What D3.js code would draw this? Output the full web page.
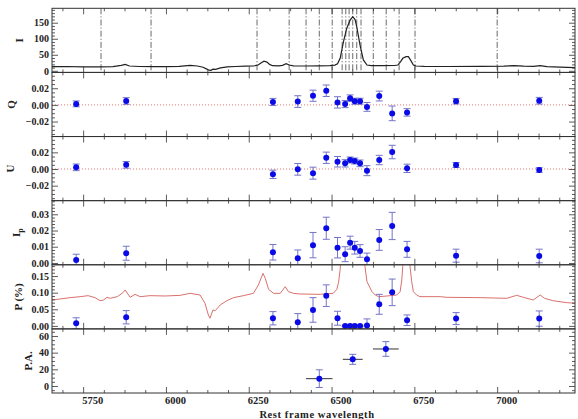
<!DOCTYPE html>
<html>
<head>
<meta charset="utf-8">
<script src="https://cdn.jsdelivr.net/npm/d3@7"></script>
<style>
  body { margin: 0; background: #fff; }
  text { font-family: "Liberation Serif", "DejaVu Serif", serif; font-weight: bold; fill: #222; }
</style>
</head>
<body>
<svg id="chart" width="578" height="419"></svg>
<script>
// ---- Total flux spectrum I(lambda): [wavelength, flux]
const fluxSpectrum = [
  [5656,13],[5700,13.5],[5750,12.5],[5800,12],[5840,13],[5865,17],[5877,20],[5890,15],
  [5920,13.5],[5960,13],[6000,13],[6040,14],[6073,17],[6095,15],[6112,11],[6122,6],
  [6130,2],[6136,1.5],[6142,5],[6150,4.5],[6165,9],[6185,12],[6210,13.5],[6240,14.5],
  [6265,15],[6278,18],[6288,25],[6296,30],[6305,27],[6313,20],[6322,16],[6340,15.5],
  [6352,17],[6363,22],[6372,18],[6385,15.5],[6420,15],[6460,15.5],[6495,16],[6510,18],
  [6518,22],[6526,39],[6536,91],[6546,133],[6556,158],[6564,169],[6571,160],[6576,138],
  [6586,80],[6596,34],[6607,18],[6620,16],[6650,16],[6690,16.5],[6700,18],[6708,28],
  [6715,39],[6725,44],[6732,44],[6740,31],[6747,18],[6755,15],[6780,14],[6850,13.5],
  [6950,14],[7020,14.5],[7050,16],[7080,14.5],[7110,14],[7130,16],[7150,13],[7190,11.5],[7235,10]
];

// ---- Binning boundaries used for the polarimetry
const binEdges = [5804, 5955, 6275, 6372, 6423, 6463, 6502, 6532, 6543, 6553, 6564,
                  6576, 6589, 6626, 6665, 6704, 6752, 7000];

// ---- Binned Stokes parameters
const binWave = [5729, 5880, 6323, 6398, 6444, 6484, 6518, 6541, 6556, 6570, 6586,
                 6607, 6644, 6683, 6728, 6876, 7127];
const qVal = [0.0012, 0.0047, 0.0035, 0.004, 0.011, 0.017, 0.003, 0.001, 0.008, 0.0044,
              0.0044, -0.0024, 0.0106, -0.0102, -0.009, 0.0044, 0.005];
const qErr = [0.0035, 0.004, 0.0043, 0.007, 0.0067, 0.0069, 0.0068, 0.0043, 0.004, 0.0036,
              0.0036, 0.0053, 0.0059, 0.0088, 0.0045, 0.0033, 0.004];
const uVal = [0.002, 0.005, -0.0064, -0.0004, -0.005, 0.0135, 0.0087, 0.0068, 0.0108, 0.0096,
              0.0068, -0.002, 0.0108, 0.0204, 0.0008, 0.0048, -0.0012];
const uErr = [0.004, 0.004, 0.005, 0.007, 0.0072, 0.0068, 0.0063, 0.0044, 0.0036, 0.0036,
              0.004, 0.006, 0.0056, 0.0081, 0.005, 0.003, 0.0028];
const ipVal = [0.0018, 0.006, 0.0066, 0.0029, 0.011, 0.0214, 0.0094, 0.0054, 0.0125, 0.0094,
               0.0074, 0.0023, 0.0142, 0.0228, 0.0084, 0.0045, 0.0043];
const ipErr = [0.0036, 0.0043, 0.0048, 0.0051, 0.0078, 0.0068, 0.0063, 0.0046, 0.004, 0.0039,
               0.0039, 0.0038, 0.0064, 0.0084, 0.0049, 0.004, 0.0042];
const pVal = [0.008, 0.026, 0.023, 0.011, 0.048, 0.091, 0.023, 0, 0, 0, 0,
              0.001, 0.065, 0.101, 0.017, 0.022, 0.022];
const pErr = [0.0165, 0.02, 0.02, 0.026, 0.037, 0.0325, 0.021, 0.002, 0.002, 0.002, 0.002,
              0.02, 0.03, 0.04, 0.016, 0.018, 0.023];

// ---- Continuum polarization spectrum P(lambda): [wavelength, P]
const polSpectrum = [
  [5656,0.078],[5681,0.081],[5711,0.085],[5741,0.088],[5765,0.091],[5786,0.085],[5801,0.076],
  [5812,0.078],[5822,0.086],[5832,0.083],[5853,0.088],[5870,0.100],[5877,0.108],[5892,0.086],
  [5907,0.095],[5922,0.088],[5952,0.091],[5998,0.090],[6043,0.092],[6073,0.098],[6103,0.093],
  [6118,0.068],[6128,0.033],[6133,0.023],[6142,0.048],[6149,0.046],[6164,0.063],[6184,0.076],
  [6204,0.085],[6234,0.091],[6264,0.098],[6279,0.123],[6293,0.158],[6300,0.143],[6310,0.110],
  [6325,0.098],[6345,0.098],[6360,0.118],[6370,0.103],[6385,0.098],[6405,0.096],[6466,0.095],
  [6505,0.098],[6516,0.110],[6521,0.130],[6526,0.170],[6532,0.25],[6545,0.45],[6564,0.6],
  [6585,0.45],[6597,0.25],[6601,0.178],[6607,0.133],[6622,0.103],[6632,0.093],[6642,0.088],
  [6667,0.090],[6697,0.093],[6707,0.103],[6712,0.138],[6715,0.178],[6720,0.3],[6732,0.3],
  [6737,0.178],[6742,0.133],[6747,0.103],[6757,0.093],[6767,0.088],[6828,0.088],[6848,0.086],
  [6949,0.085],[7029,0.083],[7059,0.092],[7079,0.086],[7109,0.078],[7130,0.093],[7143,0.083],
  [7168,0.076],[7209,0.070],[7239,0.068]
];

// ---- Position angle over three wide bins
const paWave = [6463, 6564, 6664];
const paHalfWidth = [40, 30, 39];
const paVal = [8.8, 32, 44.4];
const paErr = [10.6, 6, 8.8];

// ---- Axis ticks
const xMajorTicks = [5750, 6000, 6250, 6500, 6750, 7000];

// ---------------------------------------------------------------
const plotLeft = 52, plotRight = 575, plotTop = 8.3, plotBottom = 393;
const nPanels = 6, ph = (plotBottom - plotTop) / nPanels;
const svg = d3.select("#chart");
const axisColor = "#333";
const pointColor = "#0a0ae6";
const errColor = "#7474c8";
const redColor = "#d9706c";

const x = d3.scaleLinear().domain([5656, 7235]).range([plotLeft, plotRight]);
const xMinor = d3.range(5687.5, 7235, 62.5).filter(v => !xMajorTicks.includes(v));

const panels = [
  { title: "I",   domain: [-5, 195],          ticks: [0, 50, 100, 150],        minor: 10,    fmt: d3.format("d"),   tx: 23 },
  { title: "Q",   domain: [-0.038, 0.039],    ticks: [-0.02, 0, 0.02],         minor: 0.005, fmt: d3.format(".2f"), tx: 15 },
  { title: "U",   domain: [-0.038, 0.039],    ticks: [-0.02, 0, 0.02],         minor: 0.005, fmt: d3.format(".2f"), tx: 14 },
  { title: "Ip",  domain: [-0.0011, 0.0384],  ticks: [0, 0.01, 0.02, 0.03],    minor: 0.002, fmt: d3.format(".2f"), tx: 20 },
  { title: "P (%)", domain: [-0.009, 0.184],  ticks: [0, 0.05, 0.10, 0.15],    minor: 0.01,  fmt: d3.format(".2f"), tx: 22 },
  { title: "P.A.", domain: [-8.4, 68.5],      ticks: [0, 20, 40, 60],          minor: 5,     fmt: d3.format("d"),   tx: 32 }
];

panels.forEach((p, i) => {
  p.y0 = plotTop + i * ph;
  p.y1 = plotTop + (i + 1) * ph;
  p.y = d3.scaleLinear().domain(p.domain).range([p.y1, p.y0]);
  const lo = Math.ceil(p.domain[0] / p.minor), hi = Math.floor(p.domain[1] / p.minor);
  p.minorTicks = d3.range(lo, hi + 1).map(k => +(k * p.minor).toFixed(6))
    .filter(v => !p.ticks.some(t => Math.abs(t - v) < 1e-9));
  svg.append("clipPath").attr("id", "clip" + i)
    .append("rect").attr("x", plotLeft).attr("y", p.y0).attr("width", plotRight - plotLeft).attr("height", ph);
});

// ---- Panel 0: flux spectrum with bin boundaries
{
  const p = panels[0];
  const g = svg.append("g").attr("clip-path", "url(#clip0)");
  g.selectAll("line.edge").data(binEdges).join("line")
    .attr("x1", d => x(d)).attr("x2", d => x(d))
    .attr("y1", p.y0).attr("y2", p.y1)
    .attr("stroke", "#444").attr("stroke-width", 0.8)
    .attr("stroke-dasharray", "6,2,1.2,2");
  g.append("path").datum(fluxSpectrum)
    .attr("fill", "none").attr("stroke", "#222").attr("stroke-width", 1.2)
    .attr("d", d3.line().x(d => x(d[0])).y(d => p.y(d[1])));
}

// ---- Zero reference lines for Q and U
[1, 2].forEach(i => {
  const p = panels[i];
  svg.append("line")
    .attr("x1", plotLeft).attr("x2", plotRight)
    .attr("y1", p.y(0)).attr("y2", p.y(0))
    .attr("stroke", "#e05050").attr("stroke-width", 0.8)
    .attr("stroke-dasharray", "1,2");
});

// ---- Polarization spectrum in panel 4
{
  const p = panels[4];
  svg.append("g").attr("clip-path", "url(#clip4)")
    .append("path").datum(polSpectrum)
    .attr("fill", "none").attr("stroke", redColor).attr("stroke-width", 1)
    .attr("d", d3.line().x(d => x(d[0])).y(d => p.y(d[1])));
}

// ---- Error-bar points
function drawPoints(i, xs, vals, errs) {
  const p = panels[i];
  const g = svg.append("g").attr("clip-path", `url(#clip${i})`);
  const data = xs.map((w, k) => ({ w, v: vals[k], e: errs[k] }));
  const cap = 3.5;
  g.selectAll("line.bar").data(data).join("line")
    .attr("x1", d => x(d.w)).attr("x2", d => x(d.w))
    .attr("y1", d => p.y(d.v - d.e)).attr("y2", d => p.y(d.v + d.e))
    .attr("stroke", errColor).attr("stroke-width", 1);
  g.selectAll("line.capLo").data(data).join("line")
    .attr("x1", d => x(d.w) - cap).attr("x2", d => x(d.w) + cap)
    .attr("y1", d => p.y(d.v - d.e)).attr("y2", d => p.y(d.v - d.e))
    .attr("stroke", errColor).attr("stroke-width", 1);
  g.selectAll("line.capHi").data(data).join("line")
    .attr("x1", d => x(d.w) - cap).attr("x2", d => x(d.w) + cap)
    .attr("y1", d => p.y(d.v + d.e)).attr("y2", d => p.y(d.v + d.e))
    .attr("stroke", errColor).attr("stroke-width", 1);
  return { g, data };
}

[[1, qVal, qErr], [2, uVal, uErr], [3, ipVal, ipErr], [4, pVal, pErr]].forEach(([i, v, e]) => {
  const { g, data } = drawPoints(i, binWave, v, e);
  g.selectAll("circle").data(data).join("circle")
    .attr("cx", d => x(d.w)).attr("cy", d => panels[i].y(d.v))
    .attr("r", 3).attr("fill", pointColor);
});

// ---- Position angle with wavelength extent
{
  const p = panels[5];
  const { g, data } = drawPoints(5, paWave, paVal, paErr);
  g.selectAll("line.xbar").data(data).join("line")
    .attr("x1", (d, k) => x(d.w - paHalfWidth[k])).attr("x2", (d, k) => x(d.w + paHalfWidth[k]))
    .attr("y1", d => p.y(d.v)).attr("y2", d => p.y(d.v))
    .attr("stroke", "#333").attr("stroke-width", 1);
  g.selectAll("circle").data(data).join("circle")
    .attr("cx", d => x(d.w)).attr("cy", d => p.y(d.v))
    .attr("r", 3).attr("fill", pointColor);
}

// ---- Axes and frames
function styleAxis(sel) {
  sel.select(".domain").remove();
  sel.selectAll(".tick line").attr("stroke", axisColor).attr("stroke-width", 0.8);
  sel.selectAll("text").attr("font-size", 10).attr("fill", "#222")
    .attr("font-family", '"Liberation Serif", serif').attr("font-weight", "bold");
}

panels.forEach((p, i) => {
  const last = i === nPanels - 1;
  svg.append("g").attr("transform", `translate(${plotLeft},0)`)
    .call(d3.axisLeft(p.y).tickValues(p.ticks).tickFormat(p.fmt).tickSize(-6).tickPadding(3))
    .call(styleAxis);
  svg.append("g").attr("transform", `translate(${plotLeft},0)`)
    .call(d3.axisLeft(p.y).tickValues(p.minorTicks).tickFormat("").tickSize(-3))
    .call(styleAxis);
  svg.append("g").attr("transform", `translate(${plotRight},0)`)
    .call(d3.axisRight(p.y).tickValues(p.ticks).tickFormat("").tickSize(-6))
    .call(styleAxis);
  svg.append("g").attr("transform", `translate(${plotRight},0)`)
    .call(d3.axisRight(p.y).tickValues(p.minorTicks).tickFormat("").tickSize(-3))
    .call(styleAxis);
  svg.append("g").attr("transform", `translate(0,${p.y0})`)
    .call(d3.axisTop(x).tickValues(xMajorTicks).tickFormat("").tickSize(-6)).call(styleAxis);
  svg.append("g").attr("transform", `translate(0,${p.y0})`)
    .call(d3.axisTop(x).tickValues(xMinor).tickFormat("").tickSize(-3)).call(styleAxis);
  const bx = svg.append("g").attr("transform", `translate(0,${p.y1})`)
    .call(d3.axisBottom(x).tickValues(xMajorTicks)
      .tickFormat(last ? d3.format("d") : "").tickSize(-6).tickPadding(4))
    .call(styleAxis);
  if (last) bx.selectAll("text").attr("font-size", 10.5).attr("dx", 9);
  svg.append("g").attr("transform", `translate(0,${p.y1})`)
    .call(d3.axisBottom(x).tickValues(xMinor).tickFormat("").tickSize(-3)).call(styleAxis);

  svg.append("rect").attr("x", plotLeft).attr("y", p.y0).attr("width", plotRight - plotLeft).attr("height", ph)
    .attr("fill", "none").attr("stroke", axisColor).attr("stroke-width", 1);

  const t = svg.append("text")
    .attr("transform", `translate(${p.tx},${(p.y0 + p.y1) / 2}) rotate(-90)`)
    .attr("text-anchor", "middle").attr("font-size", 11);
  if (p.title === "Ip") {
    t.append("tspan").text("I");
    t.append("tspan").attr("font-size", 8).attr("dy", 3).text("p");
  } else {
    t.text(p.title);
  }
});

svg.append("text")
  .attr("x", 317).attr("y", 417.5)
  .attr("text-anchor", "middle").attr("font-size", 10.5).attr("letter-spacing", 0.6)
  .text("Rest frame wavelength");
</script>
</body>
</html>
